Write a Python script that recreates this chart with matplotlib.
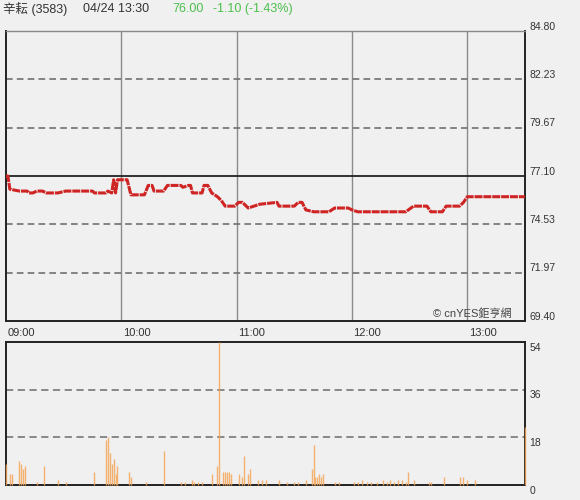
import matplotlib
matplotlib.use("Agg")
import matplotlib.pyplot as plt
import matplotlib.transforms as mtransforms

plt.rcParams['font.family'] = ['Liberation Sans', 'Noto Sans CJK TC', 'DejaVu Sans']

# price knots: minutes after 09:00, price
price_min = [0, 1, 2, 7, 11, 12, 14, 16, 19, 21, 24, 27, 31, 45, 46, 52, 53, 55,
             56, 57, 58, 63, 65, 72, 74, 76, 77, 82, 84, 91, 92, 95, 96, 97, 102,
             103, 105, 107, 110, 112, 114, 119, 121, 123, 126, 129, 132, 141, 142,
             150, 152, 154, 156, 160, 168, 171, 178, 180, 183, 208, 212, 219, 221,
             227, 229, 236, 238, 240, 270]
price_val = [77.1, 77.1, 76.4, 76.3, 76.3, 76.2, 76.2, 76.3, 76.3, 76.2, 76.2, 76.2,
             76.3, 76.3, 76.2, 76.2, 76.3, 76.2, 76.9, 76.2, 76.9, 76.9, 76.1, 76.1,
             76.6, 76.6, 76.3, 76.3, 76.6, 76.6, 76.5, 76.6, 76.6, 76.2, 76.2, 76.6,
             76.6, 76.2, 76.0, 75.8, 75.5, 75.5, 75.7, 75.7, 75.4, 75.5, 75.6, 75.7,
             75.5, 75.5, 75.7, 75.7, 75.3, 75.2, 75.2, 75.4, 75.4, 75.3, 75.2, 75.2,
             75.5, 75.5, 75.2, 75.2, 75.5, 75.5, 75.7, 76.0, 76.0]

vol_min = [0, 2, 3, 7, 8, 9, 10, 16, 20, 27, 31, 46, 52, 53, 54, 55, 56, 57, 58,
           64, 65, 73, 82, 91, 93, 97, 98, 100, 102, 107, 110, 111, 113, 114, 115,
           116, 117, 121, 123, 124, 126, 127, 131, 133, 135, 142, 146, 150, 152,
           156, 159, 160, 161, 162, 163, 164, 165, 171, 173, 181, 183, 185, 188,
           190, 193, 196, 198, 200, 202, 204, 206, 208, 209, 212, 220, 221, 228,
           236, 238, 240, 244, 270]
vol_val = [8, 4, 4, 9, 8, 6, 7, 1, 7, 2, 1, 5, 17, 18, 12, 8, 10, 4, 7,
           5, 3, 1, 13, 1, 1, 2, 1, 1, 1, 4, 7, 54, 5, 5, 5,
           5, 4, 4, 3, 11, 4, 6, 2, 2, 2, 2, 1, 1, 1,
           2, 6, 15, 3, 3, 4, 3, 4, 1, 1, 1, 1, 2, 1,
           1, 1, 2, 1, 2, 1, 2, 2, 1, 5, 2, 1, 1, 3,
           3, 3, 2, 2, 22]

prev_close = 77.10
price_ticks = [84.80, 82.23, 79.67, 77.10, 74.53, 71.97, 69.40]
vol_ticks = [54, 36, 18, 0]
hour_ticks = [0, 60, 120, 180, 240]
hour_labels = ['09:00', '10:00', '11:00', '12:00', '13:00']

bg = '#f0f0f0'
fig = plt.figure(figsize=(5.8, 5.0), dpi=100, facecolor=bg)
ax1 = fig.add_axes([6 / 580, 1 - 321 / 500, 519 / 580, 290 / 500])
ax2 = fig.add_axes([6 / 580, 1 - 485 / 500, 519 / 580, 143 / 500])

for ax in (ax1, ax2):
    ax.set_facecolor(bg)
    ax.set_xlim(0, 270)
    ax.set_xticks([])
    ax.set_yticks([])
    for s in ax.spines.values():
        s.set_color('#222222')
        s.set_linewidth(1.4)

# ---- price panel
ax1.set_ylim(69.40, 84.80)
ax1.spines['top'].set_color('#888888')
ax1.spines['top'].set_linewidth(1.0)
for t in price_ticks[1:-1]:
    if t == prev_close:
        ax1.axhline(t, color='#222222', lw=1.3, zorder=2)
    else:
        ax1.axhline(t, color='#707070', lw=1.2, ls=(0, (4, 2.5)), zorder=2)
for m in hour_ticks[1:]:
    ax1.axvline(m, color='#8a8a8a', lw=1.0, zorder=1)

ax1.plot(price_min, price_val, color='#cf2424', lw=2.2,
         ls=(0, (2.6, 0.3)), zorder=4, solid_capstyle='butt')

off_up = mtransforms.offset_copy(ax1.get_yaxis_transform(), fig=fig, x=3, y=3, units='points')
for t in price_ticks:
    ax1.text(1.0, t, f'{t:.2f}', transform=off_up, ha='left', va='center',
             fontsize=7.5, color='#333333', clip_on=False)

off_x = mtransforms.offset_copy(ax1.get_xaxis_transform(), fig=fig, x=1, y=-5, units='points')
for m, lab in zip(hour_ticks, hour_labels):
    ax1.text(m, 0, lab, transform=off_x, ha='left', va='top',
             fontsize=8, color='#333333', clip_on=False)

ax1.text(0.975, 0.008, '© cnYES鉅亨網', transform=ax1.transAxes, ha='right',
         va='bottom', fontsize=8, color='#444444', zorder=5)

# ---- volume panel
ax2.set_ylim(0, 54)
for t in vol_ticks[1:-1]:
    ax2.axhline(t, color='#808080', lw=1.3, ls=(0, (4, 2.5)), zorder=1)
ax2.vlines(vol_min, 0, vol_val, color='#f4a65a', lw=1.0, alpha=0.85, zorder=3,
           clip_on=False)

off_dn = mtransforms.offset_copy(ax2.get_yaxis_transform(), fig=fig, x=3, y=-4, units='points')
for t in vol_ticks:
    ax2.text(1.0, t, str(t), transform=off_dn, ha='left', va='center',
             fontsize=7.5, color='#333333', clip_on=False)

# ---- header
fig.text(3 / 580, 1 - 9 / 500, '辛耘 (3583)', ha='left', va='center',
         fontsize=9, color='#333333')
fig.text(83 / 580, 1 - 9 / 500, '04/24 13:30', ha='left', va='center',
         fontsize=9, color='#333333')
fig.text(172 / 580, 1 - 9 / 500, '76.00', ha='left', va='center',
         fontsize=9, color='#4cbf4c')
fig.text(213 / 580, 1 - 9 / 500, '-1.10 (-1.43%)', ha='left', va='center',
         fontsize=9, color='#4cbf4c')

fig.savefig('out.png', dpi=100, facecolor=bg)
